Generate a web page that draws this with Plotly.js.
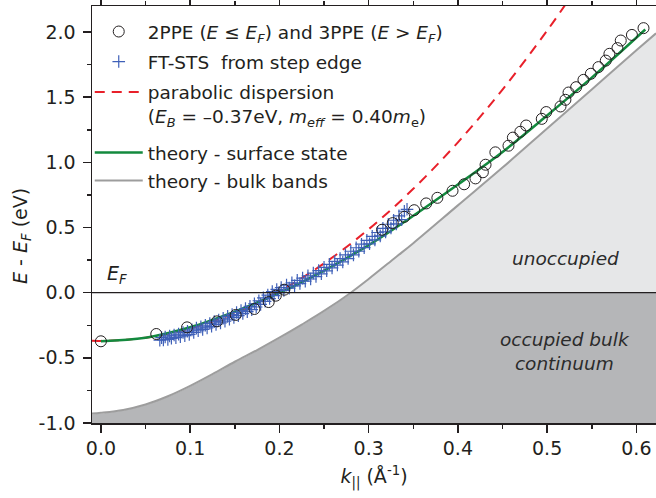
<!DOCTYPE html>
<html><head><meta charset="utf-8">
<script src="https://cdn.plot.ly/plotly-3.0.1.min.js"></script>
<style>html,body{margin:0;padding:0;background:#fff}#chart{width:656px;height:498px}</style>
</head><body><div id="chart"></div>
<script>
// 2PPE / 3PPE data (open circles)
const kPPE = [0.0, 0.062, 0.0965, 0.130, 0.151, 0.172, 0.188, 0.196, 0.2055,
  0.315, 0.327, 0.340, 0.351, 0.3645, 0.377, 0.394, 0.407, 0.4197, 0.428, 0.431,
  0.442, 0.4567, 0.4616, 0.470, 0.4765, 0.494, 0.499, 0.515, 0.5205, 0.524, 0.5325,
  0.5407, 0.549, 0.5575, 0.5657, 0.5698, 0.5788, 0.5825, 0.595, 0.608];
const ePPE = [-0.373, -0.317, -0.266, -0.220, -0.171, -0.125, -0.072, -0.023, 0.023,
  0.483, 0.534, 0.582, 0.633, 0.685, 0.728, 0.782, 0.832, 0.877, 0.924, 0.982,
  1.077, 1.128, 1.190, 1.235, 1.283, 1.334, 1.386, 1.429, 1.480, 1.536, 1.577,
  1.633, 1.680, 1.731, 1.781, 1.833, 1.877, 1.935, 1.978, 2.030];

// FT-STS from step edge (blue crosses)
const kSTS = [0.066,0.068,0.070,0.072,0.075,0.077,0.079,0.082,0.084,0.087,0.089,0.092,0.094,0.097,0.099,
  0.102,0.104,0.107,0.109,0.112,0.114,0.117,0.119,0.122,0.124,0.127,0.129,0.132,0.134,0.137,0.139,
  0.142,0.144,0.147,0.149,0.152,0.154,0.157,0.159,0.162,0.164,0.167,0.169,0.172,0.174,0.177,0.179,
  0.182,0.184,0.187,0.189,0.192,0.194,0.197,0.199,0.202,0.205,0.208,0.211,0.214,0.217,0.220,0.223,
  0.226,0.229,0.232,0.235,0.238,0.241,0.244,0.247,0.250,0.253,0.256,0.259,0.262,0.265,0.268,0.271,
  0.274,0.277,0.280,0.283,0.286,0.289,0.292,0.295,0.298,0.301,0.304,0.307,0.310,0.313,0.316,0.319,
  0.322,0.325,0.328,0.331,0.334,0.337,0.340,0.343];
const eSTS = [-0.365,-0.345,-0.362,-0.340,-0.358,-0.332,-0.350,-0.325,-0.345,-0.318,-0.338,-0.305,-0.330,-0.296,-0.320,
  -0.285,-0.305,-0.272,-0.292,-0.262,-0.282,-0.250,-0.270,-0.236,-0.258,-0.222,-0.244,-0.210,-0.232,-0.196,-0.218,
  -0.182,-0.204,-0.168,-0.190,-0.152,-0.176,-0.138,-0.160,-0.122,-0.146,-0.105,-0.130,-0.085,-0.110,-0.062,-0.090,
  -0.040,-0.066,-0.018,-0.045,0.008,-0.022,0.025,0.000,0.040,0.018,0.058,0.035,0.076,0.052,0.095,0.070,
  0.112,0.088,0.130,0.105,0.150,0.124,0.170,0.145,0.195,0.168,0.218,0.190,0.240,0.212,0.262,0.236,
  0.290,0.262,0.318,0.290,0.345,0.318,0.372,0.346,0.402,0.375,0.432,0.405,0.462,0.436,0.494,0.466,
  0.525,0.496,0.556,0.528,0.590,0.560,0.625,0.640];

// parabolic dispersion (E_B = -0.37 eV, m_eff = 0.40 m_e)
const kParabola = [-0.01, 0.0, 0.05, 0.10, 0.15, 0.20, 0.25, 0.30, 0.35, 0.40, 0.45, 0.50, 0.53];
const eParabola = [-0.369, -0.370, -0.346, -0.275, -0.156, 0.011, 0.225, 0.487, 0.797, 1.154, 1.559, 2.011, 2.306];

// theory - surface state (green)
const kSurface = [0.0, 0.05, 0.10, 0.15, 0.20, 0.25, 0.30, 0.35, 0.40, 0.45, 0.50, 0.55, 0.61];
const eSurface = [-0.372, -0.345, -0.265, -0.145, -0.002, 0.170, 0.365, 0.590, 0.830, 1.080, 1.360, 1.650, 2.020];

// theory - bulk bands (grey edge of the continuum)
const kBulk = [-0.01, 0.0, 0.025, 0.05, 0.075, 0.10, 0.125, 0.15, 0.175, 0.20, 0.225, 0.25, 0.28,
  0.30, 0.33, 0.35, 0.40, 0.45, 0.50, 0.55, 0.60, 0.622];
const eBulk = [-0.928, -0.922, -0.900, -0.858, -0.795, -0.715, -0.625, -0.530, -0.440, -0.345, -0.245, -0.140, 0.0,
  0.105, 0.270, 0.380, 0.670, 0.960, 1.260, 1.560, 1.860, 1.990];

const xTickVals = [0, 0.1, 0.2, 0.3, 0.4, 0.5, 0.6];
const xTickLabels = ["0.0", "0.1", "0.2", "0.3", "0.4", "0.5", "0.6"];
const yTickVals = [-1, -0.5, 0, 0.5, 1, 1.5, 2];
const yTickLabels = ["-1.0", "-0.5", "0.0", "0.5", "1.0", "1.5", "2.0"];
const xRange = [-0.01, 0.622];
const yRange = [-1.0, 2.2];

const INK = '#231f20';
const FONT = 'DejaVu Sans, Liberation Sans, Arial, sans-serif';

const below = kBulk.map((k, i) => [k, eBulk[i]]).filter(p => p[1] <= 0);
const above = kBulk.map((k, i) => [k, eBulk[i]]).filter(p => p[1] >= 0);
const skip = {showlegend: false, hoverinfo: 'skip'};

const traces = [
  // occupied region (E < E_F) in dark grey
  Object.assign({x: xRange, y: [yRange[0], yRange[0]], mode: 'lines', line: {width: 0},
   fill: 'tozeroy', fillcolor: '#b5b6b8'}, skip),
  // region between the bulk band edge and E_F (no bulk states) in white
  Object.assign({x: below.map(p => p[0]), y: below.map(p => p[1]), mode: 'lines',
   line: {width: 1.2, color: '#ffffff', shape: 'spline'}, fill: 'tozeroy', fillcolor: '#ffffff'}, skip),
  // unoccupied bulk continuum in light grey
  Object.assign({x: above.map(p => p[0]), y: above.map(p => p[1]), mode: 'lines',
   line: {width: 0, shape: 'spline'}, fill: 'tozeroy', fillcolor: '#e6e7e8'}, skip),
  {x: kBulk, y: eBulk, mode: 'lines', name: 'theory - bulk bands', legend: 'legend5',
   line: {color: '#9d9d9d', width: 2, shape: 'spline'}},
  {x: kParabola, y: eParabola, mode: 'lines', legend: 'legend3',
   name: 'parabolic dispersion<br>(<i>E</i><sub><i>B</i></sub> = \u20130.37eV, <i>m</i><sub><i>eff</i></sub> = 0.40<i>m</i><sub>e</sub>)',
   line: {color: '#e8202a', width: 2, dash: '10px,7px', shape: 'spline'}},
  {x: kSurface, y: eSurface, mode: 'lines', name: 'theory - surface state', legend: 'legend4',
   line: {color: '#138a3e', width: 2.5, shape: 'spline'}},
  {x: kSTS, y: eSTS, mode: 'markers', name: 'FT-STS&nbsp; from step edge', legend: 'legend2',
   marker: {symbol: 'cross-thin', size: 9, color: '#3f60b8', line: {color: '#3f60b8', width: 1.2}}},
  {x: kPPE, y: ePPE, mode: 'markers', legend: 'legend',
   name: '2PPE (<i>E</i> \u2264 <i>E</i><sub><i>F</i></sub>) and 3PPE (<i>E</i> &gt; <i>E</i><sub><i>F</i></sub>)',
   marker: {symbol: 'circle-open', size: 11, color: INK, line: {width: 1}}}
];

const M = {l: 92, r: 0, t: 6, b: 75};
const plotH = 498 - M.t - M.b;
const py = px => (498 - M.b - px) / plotH;
function mkLegend(yPx) {
  return {x: -0.004, y: py(yPx), xanchor: 'left', yanchor: 'middle', valign: 'top',
    bgcolor: 'rgba(0,0,0,0)', borderwidth: 0, itemwidth: 48,
    font: {family: FONT, size: 18.5, color: INK}};
}

const layout = {
  width: 656, height: 498, margin: M,
  paper_bgcolor: '#fff', plot_bgcolor: '#fff',
  font: {family: FONT, size: 18.5, color: INK},
  showlegend: true,
  legend: mkLegend(32), legend2: mkLegend(62), legend3: mkLegend(104.5),
  legend4: mkLegend(153), legend5: mkLegend(181),
  xaxis: {range: xRange, tickvals: xTickVals, ticktext: xTickLabels, ticks: 'outside', ticklen: 8,
    tickwidth: 1.5, tickcolor: INK, showline: true, linecolor: INK, linewidth: 1.5, mirror: 'ticks',
    showgrid: false, zeroline: false, tickfont: {family: FONT, size: 19, color: INK},
    minor: {dtick: 0.05, tick0: 0, ticks: 'outside', ticklen: 4, tickwidth: 1.5, tickcolor: INK, showgrid: false},
    title: {text: '<i>k</i><sub>||</sub> (\u00c5<sup>-1</sup>)', font: {family: FONT, size: 19, color: INK}, standoff: 11}},
  yaxis: {range: yRange, tickvals: yTickVals, ticktext: yTickLabels, ticks: 'outside', ticklen: 8,
    tickwidth: 1.5, tickcolor: INK, showline: true, linecolor: INK, linewidth: 1.5, mirror: false,
    showgrid: false, zeroline: false, tickfont: {family: FONT, size: 19, color: INK}, ticklabelstandoff: 3,
    minor: {dtick: 0.25, tick0: 0, ticks: 'outside', ticklen: 4, tickwidth: 1.5, tickcolor: INK, showgrid: false}},
  shapes: [{type: 'line', xref: 'paper', x0: 0, x1: 1, yref: 'y', y0: 0, y1: 0,
    line: {color: INK, width: 1.3}, layer: 'above'}],
  annotations: [
    {xref: 'paper', yref: 'paper', x: (21 - M.l) / 564, y: py(236), textangle: -90, showarrow: false,
     xanchor: 'center', yanchor: 'middle',
     text: '<i>E</i> - <i>E</i><sub><i>F</i></sub> (eV)', font: {family: FONT, size: 19, color: INK}},
    {xref: 'x', yref: 'y', x: 0.005, y: 0.14, xanchor: 'left', yanchor: 'middle', showarrow: false,
     text: '<i>E</i><sub><i>F</i></sub>', font: {family: FONT, size: 19, color: INK}},
    {xref: 'x', yref: 'y', x: 0.521, y: 0.26, xanchor: 'center', yanchor: 'middle', showarrow: false,
     text: '<i>unoccupied</i>', font: {family: FONT, size: 18.5, color: '#2b2b2b'}},
    {xref: 'x', yref: 'y', x: 0.52, y: -0.45, xanchor: 'center', yanchor: 'middle', showarrow: false,
     text: '<i>occupied bulk</i><br><i>continuum</i>', font: {family: FONT, size: 18.5, color: '#2b2b2b'}}
  ]
};

Plotly.newPlot('chart', traces, layout, {displayModeBar: false, staticPlot: true});
</script></body></html>
